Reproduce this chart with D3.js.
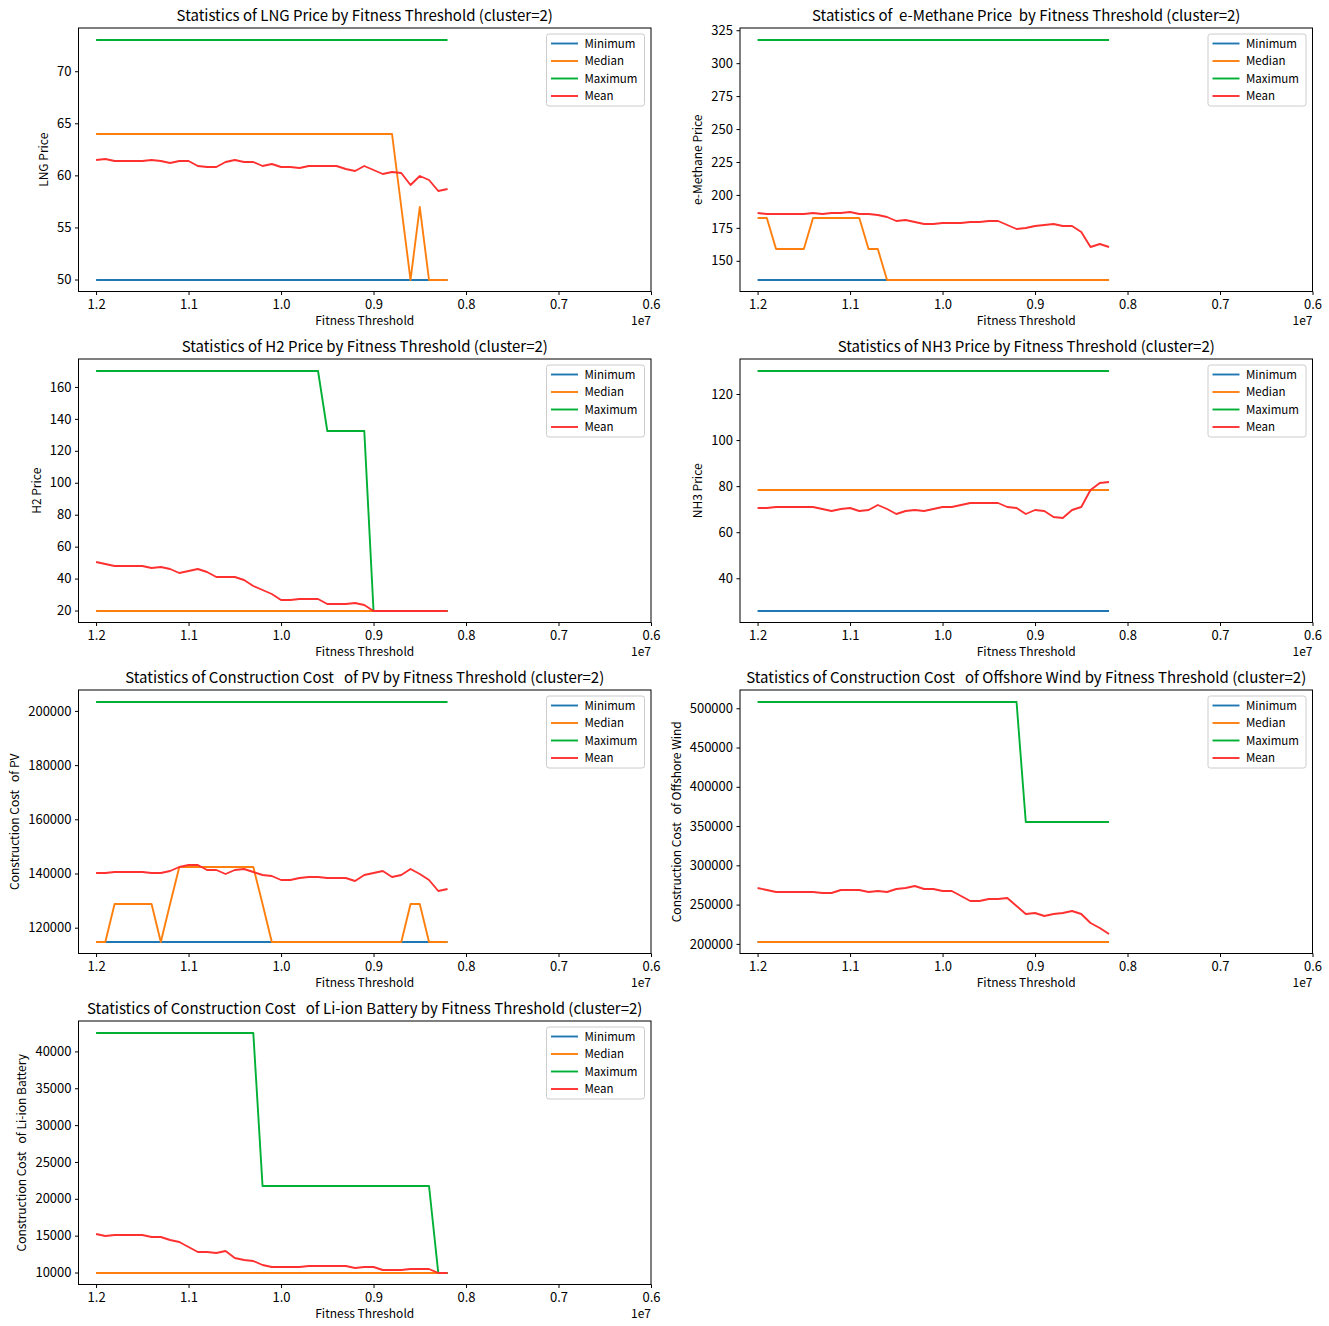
<!DOCTYPE html>
<html>
<head>
<meta charset="utf-8">
<script src="https://cdn.jsdelivr.net/npm/d3@7"></script>
<style>
  body { margin: 0; background: #fff; }
  svg text { font-family: "Noto Sans CJK JP", "Noto Sans", sans-serif; white-space: pre; fill: #000; }
</style>
</head>
<body>
<div id="chart"></div>
<script>
// x categories (fitness threshold)
const THRESHOLDS = [12000000, 11900000, 11800000, 11700000, 11600000, 11500000, 11400000, 11300000, 11200000, 11100000,
  11000000, 10900000, 10800000, 10700000, 10600000, 10500000, 10400000, 10300000, 10200000, 10100000,
  10000000, 9900000, 9800000, 9700000, 9600000, 9500000, 9400000, 9300000, 9200000, 9100000,
  9000000, 8900000, 8800000, 8700000, 8600000, 8500000, 8400000, 8300000, 8200000];
const X_TICKS = [12000000, 11000000, 10000000, 9000000, 8000000, 7000000, 6000000];
const X_RIGHT_LIMIT = 6000000;
const SERIES_NAMES = ['Minimum', 'Median', 'Maximum', 'Mean'];

// LNG
const LNG_MIN = [50,50,50,50,50,50,50,50,50,50,50,50,50,50,50,50,50,50,50,50,50,50,50,50,50,50,50,50,50,50,50,50,50,50,50,50,50,50,50];
const LNG_MEDIAN = [64,64,64,64,64,64,64,64,64,64,64,64,64,64,64,64,64,64,64,64,64,64,64,64,64,64,64,64,64,64,64,64,64,57,50,57,50,50,50];
const LNG_MAX = [73,73,73,73,73,73,73,73,73,73,73,73,73,73,73,73,73,73,73,73,73,73,73,73,73,73,73,73,73,73,73,73,73,73,73,73,73,73,73];
const LNG_MEAN = [61.45, 61.55, 61.42, 61.42, 61.42, 61.42, 61.52, 61.39, 61.16, 61.42, 61.39, 60.88, 60.84, 60.81, 61.32, 61.48, 61.29, 61.26, 60.94, 61.10,
  60.81, 60.81, 60.72, 60.94, 60.94, 60.94, 60.91, 60.59, 60.40, 60.94, 60.52, 60.11, 60.30, 60.20, 59.12, 59.92, 59.57, 58.51, 58.70];
const LNG_TICKS = [50, 55, 60, 65, 70];

// e-Methane
const EM_MIN = [135.8,135.8,135.8,135.8,135.8,135.8,135.8,135.8,135.8,135.8,135.8,135.8,135.8,135.8,135.8,135.8,135.8,135.8,135.8,135.8,
  135.8,135.8,135.8,135.8,135.8,135.8,135.8,135.8,135.8,135.8,135.8,135.8,135.8,135.8,135.8,135.8,135.8,135.8,135.8];
const EM_MEDIAN = [182.5,182.5,159.2,159.2,159.2,159.2,182.5,182.5,182.5,182.5,182.5,182.5,159.2,159.2,135.8,135.8,135.8,135.8,135.8,135.8,
  135.8,135.8,135.8,135.8,135.8,135.8,135.8,135.8,135.8,135.8,135.8,135.8,135.8,135.8,135.8,135.8,135.8,135.8,135.8];
const EM_MAX = [317.6,317.6,317.6,317.6,317.6,317.6,317.6,317.6,317.6,317.6,317.6,317.6,317.6,317.6,317.6,317.6,317.6,317.6,317.6,317.6,
  317.6,317.6,317.6,317.6,317.6,317.6,317.6,317.6,317.6,317.6,317.6,317.6,317.6,317.6,317.6,317.6,317.6,317.6,317.6];
const EM_MEAN = [186.0, 185.3, 185.3, 185.3, 185.3, 185.3, 186.5, 185.5, 186.3, 186.0, 186.8, 185.8, 185.3, 184.8, 183.2, 180.2, 181.0, 179.4, 177.9, 177.7,
  178.7, 178.7, 178.7, 179.4, 179.4, 180.5, 180.5, 177.2, 174.1, 174.9, 176.2, 177.2, 178.2, 176.4, 176.2, 171.9, 160.8, 163.0, 160.8];
const EM_TICKS = [150, 175, 200, 225, 250, 275, 300, 325];

// H2
const H2_MIN = [20,20,20,20,20,20,20,20,20,20,20,20,20,20,20,20,20,20,20,20,20,20,20,20,20,20,20,20,20,20,20,20,20,20,20,20,20,20,20];
const H2_MEDIAN = [20,20,20,20,20,20,20,20,20,20,20,20,20,20,20,20,20,20,20,20,20,20,20,20,20,20,20,20,20,20,20,20,20,20,20,20,20,20,20];
const H2_MAX = [170,170,170,170,170,170,170,170,170,170,170,170,170,170,170,170,170,170,170,170,170,170,170,170,170,
  132.3,132.3,132.3,132.3,132.3,20,20,20,20,20,20,20,20,20];
const H2_MEAN = [50.1, 49.1, 47.8, 47.8, 47.8, 47.8, 46.8, 47.0, 45.7, 43.6, 44.9, 45.7, 44.3, 41.1, 41.1, 41.1, 39.4, 35.3, 33.0, 30.2,
  26.9, 26.9, 27.1, 27.5, 27.5, 24.0, 24.0, 24.2, 24.4, 23.6, 20, 20, 20, 20, 20, 20, 20, 20, 20];
const H2_TICKS = [20, 40, 60, 80, 100, 120, 140, 160];

// NH3
const NH3_MIN = [26,26,26,26,26,26,26,26,26,26,26,26,26,26,26,26,26,26,26,26,26,26,26,26,26,26,26,26,26,26,26,26,26,26,26,26,26,26,26];
const NH3_MEDIAN = [78.4,78.4,78.4,78.4,78.4,78.4,78.4,78.4,78.4,78.4,78.4,78.4,78.4,78.4,78.4,78.4,78.4,78.4,78.4,78.4,
  78.4,78.4,78.4,78.4,78.4,78.4,78.4,78.4,78.4,78.4,78.4,78.4,78.4,78.4,78.4,78.4,78.4,78.4,78.4];
const NH3_MAX = [130,130,130,130,130,130,130,130,130,130,130,130,130,130,130,130,130,130,130,130,130,130,130,130,130,130,130,130,130,130,130,130,130,130,130,130,130,130,130];
const NH3_MEAN = [70.7, 70.6, 71.0, 71.0, 71.0, 71.0, 70.9, 70.1, 69.1, 69.9, 70.3, 69.3, 69.7, 71.6, 70.1, 67.8, 69.1, 69.7, 69.1, 69.9,
  70.9, 70.9, 72.0, 72.8, 72.8, 72.6, 72.6, 71.0, 70.6, 68.1, 69.6, 69.3, 66.5, 66.2, 69.6, 71.0, 78.3, 81.3, 81.7];
const NH3_TICKS = [40, 60, 80, 100, 120];

// construction cost of PV
const PV_MIN = [114900,114900,114900,114900,114900,114900,114900,114900,114900,114900,114900,114900,114900,114900,114900,114900,114900,114900,114900,114900,
  114900,114900,114900,114900,114900,114900,114900,114900,114900,114900,114900,114900,114900,114900,114900,114900,114900,114900,114900];
const PV_MEDIAN = [114900,114900,128700,128700,128700,128700,128700,114900,128700,142500,142500,142500,142500,142500,142500,142500,142500,142500,128700,114900,
  114900,114900,114900,114900,114900,114900,114900,114900,114900,114900,114900,114900,114900,114900,128700,128700,114900,114900,114900];
const PV_MAX = [203300,203300,203300,203300,203300,203300,203300,203300,203300,203300,203300,203300,203300,203300,203300,203300,203300,203300,203300,203300,
  203300,203300,203300,203300,203300,203300,203300,203300,203300,203300,203300,203300,203300,203300,203300,203300,203300,203300,203300];
const PV_MEAN = [140030, 140280, 140520, 140520, 140520, 140520, 140150, 140030, 141010, 142490, 143100, 142980, 141380, 141140, 139790, 141140, 141500, 140400, 139420, 139170,
  137700, 137700, 138310, 138680, 138560, 138430, 138430, 138310, 137080, 139290, 140150, 140890, 138560, 139540, 141500, 139790, 137700, 133520, 134260];
const PV_TICKS = [120000, 140000, 160000, 180000, 200000];

// construction cost of offshore wind
const OW_MIN = [203000,203000,203000,203000,203000,203000,203000,203000,203000,203000,203000,203000,203000,203000,203000,203000,203000,203000,203000,203000,
  203000,203000,203000,203000,203000,203000,203000,203000,203000,203000,203000,203000,203000,203000,203000,203000,203000,203000,203000];
const OW_MEDIAN = [203000,203000,203000,203000,203000,203000,203000,203000,203000,203000,203000,203000,203000,203000,203000,203000,203000,203000,203000,203000,
  203000,203000,203000,203000,203000,203000,203000,203000,203000,203000,203000,203000,203000,203000,203000,203000,203000,203000,203000];
const OW_MAX = [508000,508000,508000,508000,508000,508000,508000,508000,508000,508000,508000,508000,508000,508000,508000,508000,508000,508000,508000,508000,
  508000,508000,508000,508000,508000,508000,508000,508000,508000,355500,355500,355500,355500,355500,355500,355500,355500,355500,355500];
const OW_MEAN = [270600, 268900, 265930, 265930, 265930, 265930, 265500, 264650, 264650, 268050, 268480, 268900, 266350, 267630, 265500, 269760, 270600, 273150, 269760, 269330,
  267210, 266770, 260830, 254450, 254450, 257000, 257000, 258700, 248490, 237860, 238700, 235300, 237430, 238700, 241250, 237860, 227220, 220840, 213180];
const OW_TICKS = [200000, 250000, 300000, 350000, 400000, 450000, 500000];

// construction cost of Li-ion battery
const LI_MIN = [10000,10000,10000,10000,10000,10000,10000,10000,10000,10000,10000,10000,10000,10000,10000,10000,10000,10000,10000,10000,
  10000,10000,10000,10000,10000,10000,10000,10000,10000,10000,10000,10000,10000,10000,10000,10000,10000,10000,10000];
const LI_MEDIAN = [10000,10000,10000,10000,10000,10000,10000,10000,10000,10000,10000,10000,10000,10000,10000,10000,10000,10000,10000,10000,
  10000,10000,10000,10000,10000,10000,10000,10000,10000,10000,10000,10000,10000,10000,10000,10000,10000,10000,10000];
const LI_MAX = [42500,42500,42500,42500,42500,42500,42500,42500,42500,42500,42500,42500,42500,42500,42500,42500,42500,42500,21700,21700,
  21700,21700,21700,21700,21700,21700,21700,21700,21700,21700,21700,21700,21700,21700,21700,21700,21700,10000,10000];
const LI_MEAN = [15255, 14983, 15073, 15073, 15073, 15073, 14847, 14847, 14440, 14122, 13397, 12718, 12763, 12582, 12854, 12038, 11722, 11540, 10996, 10770,
  10770, 10770, 10815, 10906, 10906, 10951, 10951, 10951, 10634, 10770, 10770, 10362, 10408, 10408, 10453, 10498, 10544, 10000, 10000];
const LI_TICKS = [10000, 15000, 20000, 25000, 30000, 35000, 40000];

const COLORS = ['#1f77b4', '#ff7f0e', '#00b035', '#ff3030'];

const panels = [
  { title: 'Statistics of LNG Price by Fitness Threshold (cluster=2)', ylabel: 'LNG Price',
    series: [LNG_MIN, LNG_MEDIAN, LNG_MAX, LNG_MEAN], ticks: LNG_TICKS },
  { title: 'Statistics of  e-Methane Price  by Fitness Threshold (cluster=2)', ylabel: 'e-Methane Price',
    series: [EM_MIN, EM_MEDIAN, EM_MAX, EM_MEAN], ticks: EM_TICKS },
  { title: 'Statistics of H2 Price by Fitness Threshold (cluster=2)', ylabel: 'H2 Price',
    series: [H2_MIN, H2_MEDIAN, H2_MAX, H2_MEAN], ticks: H2_TICKS },
  { title: 'Statistics of NH3 Price by Fitness Threshold (cluster=2)', ylabel: 'NH3 Price',
    series: [NH3_MIN, NH3_MEDIAN, NH3_MAX, NH3_MEAN], ticks: NH3_TICKS },
  { title: 'Statistics of Construction Cost   of PV by Fitness Threshold (cluster=2)', ylabel: 'Construction Cost   of PV',
    series: [PV_MIN, PV_MEDIAN, PV_MAX, PV_MEAN], ticks: PV_TICKS },
  { title: 'Statistics of Construction Cost   of Offshore Wind by Fitness Threshold (cluster=2)', ylabel: 'Construction Cost   of Offshore Wind',
    series: [OW_MIN, OW_MEDIAN, OW_MAX, OW_MEAN], ticks: OW_TICKS },
  { title: 'Statistics of Construction Cost   of Li-ion Battery by Fitness Threshold (cluster=2)', ylabel: 'Construction Cost   of Li-ion Battery',
    series: [LI_MIN, LI_MEDIAN, LI_MAX, LI_MEAN], ticks: LI_TICKS }
];

const WIDTH = 1329;
const HEIGHT = 1326;
const COL_LEFT = [78.5, 740];
const ROW_TOP = [28, 359, 690, 1021];
const AX_W = 572.5;
const AX_H = 263.5;
const FONT = 12;
const TICK_FONT = 13;

const svg = d3.select('#chart').append('svg')
  .attr('width', WIDTH)
  .attr('height', HEIGHT);

// matplotlib-style left margin: 5% of the data range
const xSpan = d3.max(THRESHOLDS) - d3.min(THRESHOLDS);
const X_LEFT_LIMIT = d3.max(THRESHOLDS) + xSpan * 0.05;

panels.forEach((p, k) => {
  const left = COL_LEFT[k % 2];
  const top = ROW_TOP[Math.floor(k / 2)];
  const g = svg.append('g');

  const x = d3.scaleLinear()
    .domain([X_LEFT_LIMIT, X_RIGHT_LIMIT])
    .range([left, left + AX_W]);

  const ext = d3.extent(p.series.flat());
  const pad = (ext[1] - ext[0]) * 0.05;
  const y = d3.scaleLinear()
    .domain([ext[0] - pad, ext[1] + pad])
    .range([top + AX_H, top]);

  // snap to whole pixels so overlapping flat lines stay crisp
  const line = d3.line()
    .x((d, i) => x(THRESHOLDS[i]))
    .y(d => Math.round(y(d)));

  p.series.forEach((s, j) => {
    g.append('path')
      .datum(s)
      .attr('d', line)
      .attr('fill', 'none')
      .attr('stroke', COLORS[j])
      .attr('stroke-width', 1.9)
      .attr('stroke-linejoin', 'round');
  });

  // axes
  const xAxis = g.append('g')
    .attr('transform', 'translate(0,' + (top + AX_H) + ')')
    .call(d3.axisBottom(x).tickValues(X_TICKS)
      .tickFormat(d => (d / 1e7).toFixed(1))
      .tickSize(3.5).tickPadding(4.5).tickSizeOuter(0));
  const yAxis = g.append('g')
    .attr('transform', 'translate(' + left + ',0)')
    .call(d3.axisLeft(y).tickValues(p.ticks)
      .tickFormat(d3.format('d'))
      .tickSize(3.5).tickPadding(3.5).tickSizeOuter(0));
  [xAxis, yAxis].forEach(a => {
    a.select('.domain').remove();
    a.selectAll('text').attr('font-size', TICK_FONT).attr('font-family', null);
    a.selectAll('line').attr('stroke', '#000');
  });

  g.append('rect')
    .attr('x', left).attr('y', top)
    .attr('width', AX_W).attr('height', AX_H)
    .attr('fill', 'none')
    .attr('stroke', '#000')
    .attr('stroke-width', 1);

  // offset text
  g.append('text')
    .attr('x', left + AX_W)
    .attr('y', top + AX_H + 33)
    .attr('text-anchor', 'end')
    .attr('font-size', FONT)
    .text('1e7');

  g.append('text')
    .attr('x', left + AX_W / 2)
    .attr('y', top + AX_H + 33)
    .attr('text-anchor', 'middle')
    .attr('font-size', FONT)
    .text('Fitness Threshold');

  const yb = yAxis.node().getBBox();
  g.append('text')
    .attr('transform', 'translate(' + (left + yb.x - 9) + ',' + (top + AX_H / 2) + ') rotate(-90)')
    .attr('text-anchor', 'middle')
    .attr('font-size', FONT)
    .text(p.ylabel);

  g.append('text')
    .attr('x', left + AX_W / 2)
    .attr('y', top - 7)
    .attr('text-anchor', 'middle')
    .attr('font-size', 15)
    .text(p.title);

  // legend
  const lgW = 98, lgH = 72;
  const lgX = left + AX_W - 6.5 - lgW;
  const lgY = top + 6;
  const lg = g.append('g');
  lg.append('rect')
    .attr('x', lgX).attr('y', lgY)
    .attr('width', lgW).attr('height', lgH)
    .attr('rx', 2.5)
    .attr('fill', '#fff').attr('fill-opacity', 0.8)
    .attr('stroke', '#ccc').attr('stroke-width', 1);
  SERIES_NAMES.forEach((name, j) => {
    const ly = lgY + 9.5 + j * 17.5;
    lg.append('line')
      .attr('x1', lgX + 4.5).attr('x2', lgX + 31.5)
      .attr('y1', ly).attr('y2', ly)
      .attr('stroke', COLORS[j]).attr('stroke-width', 1.9);
    lg.append('text')
      .attr('x', lgX + 38)
      .attr('y', ly + 4)
      .attr('font-size', 11.5)
      .text(name);
  });
});
</script>
</body>
</html>
